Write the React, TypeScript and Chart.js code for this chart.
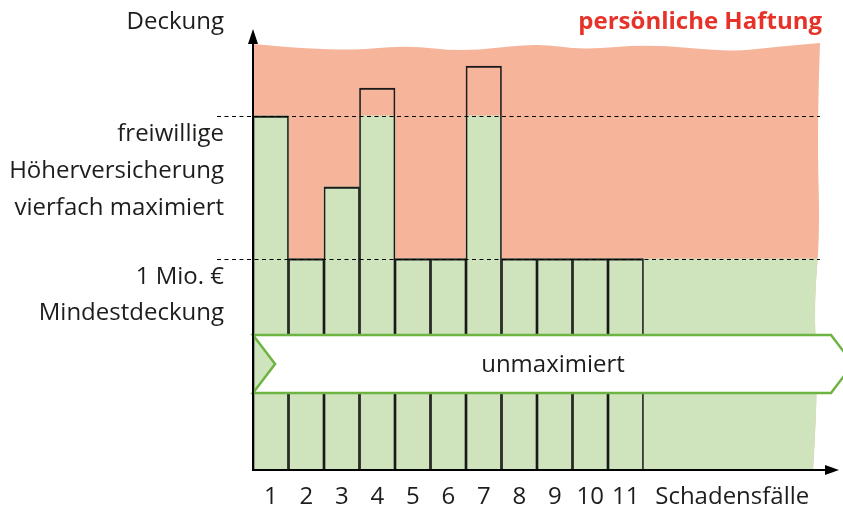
import React, { useEffect, useRef } from "react";
import { Chart, registerables } from "chart.js";

Chart.register(...registerables);

// ---- data ----
const categories = ["1", "2", "3", "4", "5", "6", "7", "8", "9", "10", "11", "", "", "", "", ""];
const coveredValues = [1.675, 1, 1.339, 1.675, 1, 1, 1.675, 1, 1, 1, 1];
const claimValues = [1.675, 1, 1.339, 1.807, 1, 1, 1.911, 1, 1, 1, 1];
const minCoverage = 1;
const maxCoverage = 1.675;
const yMax = 2.02;
const bandRange = [0.364, 0.639];
const minLabel = ["1 Mio. €", "Mindestdeckung"];
const maxLabel = ["freiwillige", "Höherversicherung", "vierfach maximiert"];
const yTitle = "Deckung";
const xTitle = "Schadensfälle";
const xTitleCategory = 13;
const zoneTitle = "persönliche Haftung";
const bandText = "unmaximiert";

// ---- styles ----
const FONT = '"Open Sans", sans-serif';
const TEXT = "#1d1d1b";
const SALMON = "#f6b49a";
const GREEN = "#cfe4bc";
const BAND_GREEN = "#6db443";
const RED = "#e6332a";

// smooth curve through points
function smoothThrough(ctx: CanvasRenderingContext2D, pts: number[][]) {
  for (let i = 1; i < pts.length - 1; i++) {
    const mx = (pts[i][0] + pts[i + 1][0]) / 2;
    const my = (pts[i][1] + pts[i + 1][1]) / 2;
    ctx.quadraticCurveTo(pts[i][0], pts[i][1], mx, my);
  }
  const last = pts[pts.length - 1];
  ctx.lineTo(last[0], last[1]);
}

function zonePath(ctx: CanvasRenderingContext2D, a: any) {
  const L = a.left, R = a.right - 1, T = a.top, B = a.bottom;
  const W = R - L, H = B - T;
  const top = [
    [0, 1], [0.15, 9], [0.27, 2], [0.37, 9], [0.5, 0], [0.58, 7], [0.7, 1], [0.84, 9], [0.92, 4], [1, 0],
  ].map(([f, d]) => [L + f * W, T + d]);
  const right = [
    [0, 0], [-3, 0.2], [0, 0.45], [-6, 0.6], [-3, 0.8], [-5, 0.92], [-7, 1],
  ].map(([d, f]) => [R + d, T + f * H]);
  ctx.beginPath();
  ctx.moveTo(top[0][0], top[0][1]);
  smoothThrough(ctx, top);
  smoothThrough(ctx, right);
  ctx.lineTo(L, B);
  ctx.closePath();
}

const decor = {
  id: "decor",
  beforeDatasetsDraw(chart: any) {
    const { ctx, chartArea: a, scales } = chart;
    const y = scales.y;
    ctx.save();
    zonePath(ctx, a);
    ctx.fillStyle = SALMON;
    ctx.fill();
    ctx.clip();
    const p1 = y.getPixelForValue(minCoverage);
    ctx.fillStyle = GREEN;
    ctx.fillRect(a.left, p1, a.right - a.left, a.bottom - p1);
    ctx.restore();
  },
  afterDatasetsDraw(chart: any) {
    const { ctx, chartArea: a, scales } = chart;
    const y = scales.y;
    const x = scales.x;
    const L = a.left, R = a.right, T = a.top, B = a.bottom;
    ctx.save();

    // dashed level lines
    ctx.strokeStyle = "#000";
    ctx.lineWidth = 1;
    ctx.setLineDash([4, 3.5]);
    for (const v of [minCoverage, maxCoverage]) {
      const py = Math.round(y.getPixelForValue(v)) + 0.5;
      ctx.beginPath();
      ctx.moveTo(L - 36, py);
      ctx.lineTo(R - 1, py);
      ctx.stroke();
    }
    ctx.setLineDash([]);

    // band arrow
    const bt = y.getPixelForValue(bandRange[1]);
    const bb = y.getPixelForValue(bandRange[0]);
    const bm = (bt + bb) / 2;
    const notch = (bb - bt) * 0.38;
    const rb = R + 10;
    ctx.beginPath();
    ctx.moveTo(L, bt);
    ctx.lineTo(rb, bt);
    ctx.lineTo(rb + notch, bm);
    ctx.lineTo(rb, bb);
    ctx.lineTo(L, bb);
    ctx.lineTo(L + notch, bm);
    ctx.closePath();
    ctx.fillStyle = "#fff";
    ctx.fill();
    ctx.strokeStyle = BAND_GREEN;
    ctx.lineWidth = 2.5;
    ctx.lineJoin = "miter";
    ctx.stroke();
    ctx.fillStyle = TEXT;
    ctx.font = `24px ${FONT}`;
    ctx.textAlign = "center";
    ctx.textBaseline = "middle";
    ctx.fillText(bandText, (L + rb + notch) / 2, bm + 1);

    // axes
    ctx.strokeStyle = "#000";
    ctx.fillStyle = "#000";
    ctx.lineWidth = 2;
    ctx.beginPath();
    ctx.moveTo(L, B);
    ctx.lineTo(L, T);
    ctx.moveTo(L - 1, B);
    ctx.lineTo(R + 6, B);
    ctx.stroke();
    ctx.beginPath();
    ctx.moveTo(L, T - 14);
    ctx.lineTo(L - 5, T + 1);
    ctx.lineTo(L + 5, T + 1);
    ctx.closePath();
    ctx.fill();
    ctx.beginPath();
    ctx.moveTo(R + 18, B);
    ctx.lineTo(R + 4, B - 5);
    ctx.lineTo(R + 4, B + 5);
    ctx.closePath();
    ctx.fill();

    // texts
    ctx.textBaseline = "middle";
    ctx.font = `24px ${FONT}`;
    ctx.fillStyle = TEXT;
    ctx.textAlign = "right";
    const tx = L - 29;
    ctx.fillText(yTitle, tx, 22);
    const pMax = y.getPixelForValue(maxCoverage);
    maxLabel.forEach((s, i) => ctx.fillText(s, tx, pMax + 18 + i * 37));
    const pMin = y.getPixelForValue(minCoverage);
    minLabel.forEach((s, i) => ctx.fillText(s, tx, pMin + 19 + i * 36));

    ctx.textAlign = "center";
    ctx.fillText(xTitle, x.getPixelForValue(xTitleCategory), B + 27);

    ctx.textAlign = "right";
    ctx.fillStyle = RED;
    ctx.font = `bold 24px ${FONT}`;
    ctx.fillText(zoneTitle, R + 1, 22);
    ctx.restore();
  },
};

export default function App() {
  const ref = useRef<HTMLCanvasElement | null>(null);
  useEffect(() => {
    if (!ref.current) return;
    const chart = new Chart(ref.current, {
      type: "bar",
      data: {
        labels: categories,
        datasets: [
          {
            label: "Deckung",
            data: coveredValues,
            backgroundColor: GREEN,
            borderWidth: 0,
            grouped: false,
            order: 2,
            categoryPercentage: 1,
            barPercentage: 1,
          } as any,
          {
            label: "Schaden",
            data: claimValues,
            backgroundColor: "rgba(0,0,0,0)",
            borderColor: "#1a1a1a",
            borderWidth: { top: 1.5, left: 1, right: 1, bottom: 0 },
            borderSkipped: "start",
            grouped: false,
            order: 1,
            categoryPercentage: 1,
            barPercentage: 1,
          } as any,
        ],
      },
      options: {
        animation: false,
        responsive: false,
        events: [],
        layout: { padding: { left: 253, right: 22, top: 43, bottom: -14 } },
        plugins: { legend: { display: false }, tooltip: { enabled: false } },
        scales: {
          x: {
            grid: { display: false, drawTicks: false },
            border: { display: false },
            ticks: {
              color: TEXT,
              font: { family: FONT, size: 24, lineHeight: 1 },
              padding: 15,
              maxRotation: 0,
              minRotation: 0,
              autoSkip: false,
            },
          },
          y: { display: false, min: 0, max: yMax },
        },
      },
      plugins: [decor],
    });
    return () => chart.destroy();
  }, []);
  return (
    <div style={{ position: "absolute", left: 0, top: 0, width: 843, height: 510, background: "#fff" }}>
      <canvas ref={ref} width={843} height={510} />
    </div>
  );
}
